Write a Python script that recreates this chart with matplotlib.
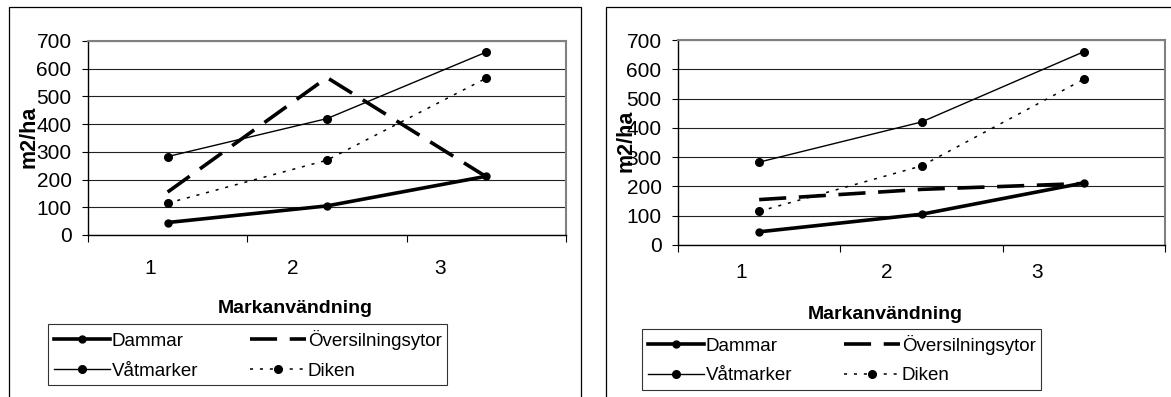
import matplotlib.pyplot as plt
from matplotlib.patches import Rectangle

plt.rcParams['font.family'] = ['Liberation Sans', 'DejaVu Sans']

# Data
categories = [1, 2, 3]
dammar = [45, 105, 212]
vatmarker = [283, 420, 660]
diken = [115, 270, 566]
oversilning_a = [155, 568, 210]
oversilning_b = [155, 190, 210]
yticks = [0, 100, 200, 300, 400, 500, 600, 700]
label_pos = [0.89, 1.785, 2.71]

W, H = 1171, 397
fig = plt.figure(figsize=(W / 100, H / 100), dpi=100)


def px_axes(l, t, r, b):
    return fig.add_axes([l / W, 1 - b / H, (r - l) / W, (b - t) / H])


def draw_panel(ax, overs, tick_pad):
    ax.plot(categories, dammar, color='black', lw=2.6, marker='o', ms=5,
            label='Dammar', zorder=5)
    ax.plot(categories, vatmarker, color='black', lw=1.0, marker='o', ms=5.5,
            label='Våtmarker', zorder=4)
    ax.plot(categories, overs, color='black', lw=2.6, dashes=(7.5, 3.5),
            label='Översilningsytor', zorder=4)
    ax.plot(categories, diken, color='black', lw=1.1, dashes=(2, 4.5),
            marker='o', ms=5.5, label='Diken', zorder=4)

    ax.set_xlim(0.5, 3.5)
    ax.set_ylim(0, 700)
    ax.set_yticks(yticks)
    ax.yaxis.grid(True, color='#222222', lw=0.8)
    ax.set_axisbelow(True)

    # category boundaries carry the tick marks, labels sit on minor ticks
    ax.set_xticks([0.5, 1.5, 2.5, 3.5])
    ax.set_xticklabels([])
    ax.set_xticks(label_pos, minor=True)
    ax.set_xticklabels([str(c) for c in categories], minor=True)
    ax.tick_params(axis='x', which='major', direction='out', length=5,
                   width=0.8, color='black')
    ax.tick_params(axis='x', which='minor', length=0, pad=tick_pad,
                   labelsize=15)
    ax.tick_params(axis='y', direction='out', length=4.3, width=0.8,
                   pad=7.5, labelsize=15)

    for s in ('left', 'bottom'):
        ax.spines[s].set_color('black')
        ax.spines[s].set_linewidth(1.0)
    for s in ('top', 'right'):
        ax.spines[s].set_color('#808080')
        ax.spines[s].set_linewidth(1.5)

    return ax.get_legend_handles_labels()


# Left panel
ax1 = px_axes(88, 41, 566, 235)
h1, l1 = draw_panel(ax1, oversilning_a, tick_pad=17)
# Right panel
ax2 = px_axes(678, 40, 1165, 245)
h2, l2 = draw_panel(ax2, oversilning_b, tick_pad=13)

# Outer chart borders
fig.patches.append(Rectangle((9 / W, -0.05), (581 - 9) / W, 1.05 - 7 / H,
                             transform=fig.transFigure, fill=False,
                             edgecolor='black', lw=0.9))
fig.patches.append(Rectangle((606 / W, -0.05), 0.6, 1.05 - 7 / H,
                             transform=fig.transFigure, fill=False,
                             edgecolor='black', lw=0.9))

# Axis titles
for cx, cy in [(29, 137), (626, 141)]:
    fig.text(cx / W, 1 - cy / H, 'm2/ha', rotation=90, ha='center',
             va='center', fontsize=15.5, fontweight='bold')
for cx, by in [(295, 313), (885, 319)]:
    fig.text(cx / W, 1 - by / H, 'Markanvändning', ha='center',
             va='baseline', fontsize=14, fontweight='bold')

# Legends
for (lx, ty), h, l in [((48, 324), h1, l1), ((642, 329), h2, l2)]:
    leg = fig.legend(h, l, loc='upper left',
                     bbox_to_anchor=(lx / W, 1 - ty / H), ncol=2,
                     fontsize=13.5, frameon=True, fancybox=False,
                     borderpad=0.3, handlelength=3.0, handletextpad=0.1,
                     columnspacing=2.75, labelspacing=0.68, borderaxespad=0)
    leg.get_frame().set_edgecolor('black')
    leg.get_frame().set_linewidth(0.8)

fig.savefig('out.png', dpi=100)
